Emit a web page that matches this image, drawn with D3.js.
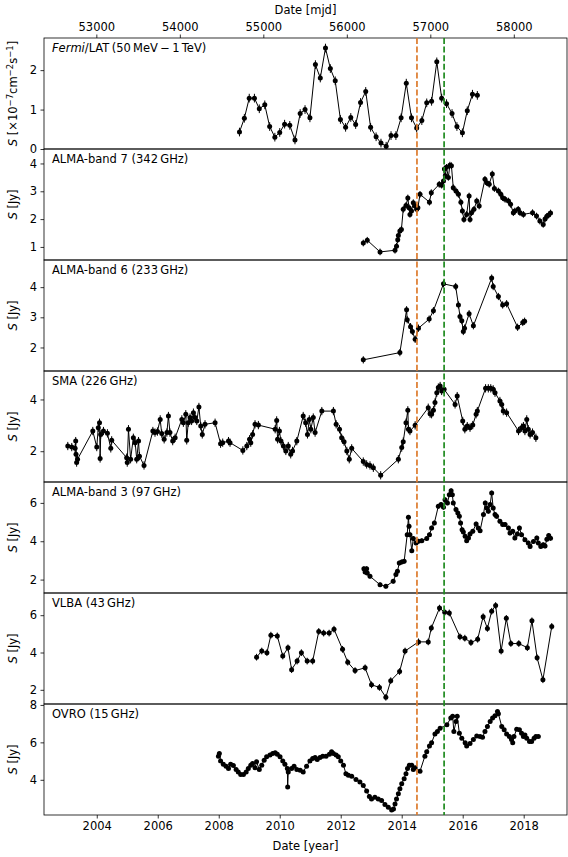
<!DOCTYPE html>
<html lang="en">
<head>
<meta charset="UTF-8">
<title>Multi-band light curves</title>
<script src="https://d3js.org/d3.v7.min.js"></script>
<style>
    body { margin: 0; background: #fff; }
    text { font-family: "DejaVu Sans", sans-serif; font-size: 11.5px; fill: #000; }
</style>
</head>
<body>
<script>

// ---- data: [decimal year, flux] ----
var fermiData = [[2008.68,0.43],[2008.84,0.78],[2009.00,1.29],[2009.17,1.29],[2009.33,1.02],[2009.51,1.12],[2009.67,0.57],[2009.84,0.30],[2010.00,0.42],[2010.16,0.63],[2010.33,0.60],[2010.50,0.23],[2010.67,0.90],[2010.83,1.00],[2010.99,0.79],[2011.17,2.14],[2011.33,1.80],[2011.50,2.56],[2011.66,2.04],[2011.82,1.73],[2011.99,0.75],[2012.16,0.55],[2012.33,0.80],[2012.49,0.62],[2012.65,1.18],[2012.82,1.46],[2012.98,0.55],[2013.16,0.31],[2013.32,0.15],[2013.49,0.07],[2013.65,0.34],[2013.81,0.34],[2013.98,0.79],[2014.15,1.67],[2014.32,0.79],[2014.49,0.53],[2014.66,0.72],[2014.82,1.17],[2014.98,1.21],[2015.15,2.21],[2015.31,1.29],[2015.47,1.15],[2015.65,0.90],[2015.81,0.57],[2015.99,0.41],[2016.15,0.97],[2016.32,1.39],[2016.48,1.36]];
var fermiErr = 0.11;

var alma7Data = [[2012.74,1.14],[2012.87,1.24],[2013.29,0.82],[2013.78,0.88],[2013.83,1.02],[2013.87,1.26],[2013.89,1.41],[2013.94,1.57],[2013.99,1.63],[2014.05,2.35],[2014.14,2.49],[2014.20,2.76],[2014.24,2.41],[2014.27,2.17],[2014.32,2.29],[2014.38,2.59],[2014.44,2.47],[2014.49,2.35],[2014.53,2.41],[2014.60,2.89],[2014.91,2.61],[2014.97,2.95],[2015.23,3.25],[2015.31,3.22],[2015.37,3.37],[2015.40,3.80],[2015.43,3.56],[2015.47,3.86],[2015.53,3.50],[2015.58,3.94],[2015.63,3.92],[2015.69,3.13],[2015.78,3.01],[2015.86,2.89],[2015.94,2.61],[2015.99,2.29],[2016.04,1.99],[2016.13,2.17],[2016.21,2.83],[2016.24,1.99],[2016.29,2.23],[2016.37,2.35],[2016.46,2.65],[2016.54,2.47],[2016.73,3.43],[2016.79,3.31],[2016.87,3.25],[2016.97,3.62],[2017.04,3.10],[2017.17,3.01],[2017.25,2.89],[2017.31,2.77],[2017.39,2.71],[2017.50,2.65],[2017.57,2.53],[2017.66,2.23],[2017.71,2.29],[2017.82,2.35],[2017.88,2.23],[2017.99,2.17],[2018.29,2.23],[2018.42,2.11],[2018.53,1.93],[2018.64,1.81],[2018.70,2.00],[2018.76,2.10],[2018.82,2.15],[2018.88,2.22]];
var alma7Err = 0.12;

var alma6Data = [[2012.74,1.59],[2013.94,1.83],[2014.16,3.25],[2014.18,2.92],[2014.29,2.69],[2014.35,2.53],[2014.44,2.27],[2014.55,2.64],[2014.90,2.94],[2015.04,3.22],[2015.37,4.11],[2015.77,4.02],[2015.86,3.41],[2015.91,3.03],[2015.97,2.89],[2016.02,2.53],[2016.06,2.64],[2016.21,3.12],[2016.35,2.72],[2016.95,4.30],[2017.00,4.02],[2017.17,3.69],[2017.31,3.41],[2017.44,3.45],[2017.80,2.67],[2017.97,2.83],[2018.03,2.87]];
var alma6Err = 0.12;

var smaData = [[2003.05,2.20],[2003.18,2.16],[2003.29,2.11],[2003.31,2.39],[2003.32,1.88],[2003.34,1.56],[2003.37,1.69],[2003.87,2.78],[2004.00,2.16],[2004.05,2.91],[2004.09,3.10],[2004.11,1.72],[2004.13,2.65],[2004.22,2.78],[2004.35,2.69],[2004.46,2.11],[2004.49,2.42],[2004.98,1.75],[2005.00,1.56],[2005.04,2.85],[2005.11,1.69],[2005.20,2.52],[2005.26,2.33],[2005.31,1.69],[2005.37,2.39],[2005.40,1.81],[2005.55,1.45],[2005.84,2.78],[2005.91,2.72],[2005.99,2.76],[2006.08,3.23],[2006.13,2.68],[2006.21,2.46],[2006.30,2.72],[2006.35,3.36],[2006.40,2.72],[2006.49,2.39],[2006.57,2.52],[2006.79,3.23],[2006.84,3.10],[2006.92,3.43],[2006.95,2.42],[2007.00,3.10],[2007.06,3.30],[2007.11,3.17],[2007.17,3.49],[2007.22,3.30],[2007.28,3.17],[2007.35,3.71],[2007.41,2.97],[2007.46,2.65],[2007.55,3.04],[2007.88,3.10],[2008.06,2.29],[2008.13,2.33],[2008.32,2.39],[2008.37,2.33],[2008.79,2.03],[2008.92,2.20],[2009.01,2.46],[2009.05,2.33],[2009.11,2.65],[2009.19,3.04],[2009.30,3.01],[2009.85,2.85],[2009.90,3.19],[2009.93,2.46],[2009.99,2.78],[2010.04,2.39],[2010.12,2.20],[2010.20,2.01],[2010.28,2.20],[2010.36,1.88],[2010.42,2.01],[2010.56,2.39],[2010.77,3.36],[2010.85,3.10],[2010.91,2.65],[2010.97,3.23],[2011.02,2.85],[2011.10,3.30],[2011.16,2.72],[2011.38,3.55],[2011.76,3.55],[2011.85,3.04],[2011.96,2.85],[2012.03,2.52],[2012.11,2.37],[2012.20,2.01],[2012.28,1.69],[2012.36,2.11],[2012.74,1.60],[2012.85,1.49],[2012.96,1.45],[2013.07,1.36],[2013.31,1.07],[2013.89,1.69],[2014.00,2.14],[2014.05,2.37],[2014.14,3.10],[2014.20,3.58],[2014.22,2.85],[2014.27,2.78],[2014.44,3.00],[2014.87,3.68],[2014.93,3.45],[2014.98,3.43],[2015.04,3.58],[2015.09,3.88],[2015.15,4.26],[2015.20,4.46],[2015.26,4.52],[2015.31,4.33],[2015.39,4.39],[2015.75,3.81],[2015.82,4.13],[2016.00,3.17],[2016.07,2.85],[2016.15,2.97],[2016.24,2.91],[2016.33,3.01],[2016.44,3.43],[2016.48,3.55],[2016.75,4.43],[2016.84,4.43],[2016.92,4.43],[2017.00,4.39],[2017.06,4.26],[2017.22,3.94],[2017.28,3.81],[2017.33,3.55],[2017.44,3.49],[2017.83,2.78],[2017.93,2.91],[2017.99,2.97],[2018.04,2.78],[2018.10,3.23],[2018.15,2.85],[2018.21,2.65],[2018.29,2.72],[2018.40,2.52]];
var smaErr = 0.16;

var alma3Data = [[2012.76,2.57],[2012.80,2.40],[2012.85,2.57],[2012.87,2.34],[2012.96,2.17],[2013.29,1.73],[2013.48,1.65],[2013.72,1.91],[2013.81,2.26],[2013.86,2.43],[2013.92,2.86],[2014.00,2.92],[2014.08,2.95],[2014.18,4.34],[2014.22,5.25],[2014.24,4.78],[2014.27,4.34],[2014.33,3.51],[2014.38,4.14],[2014.47,3.91],[2014.55,4.00],[2014.66,4.03],[2014.82,4.14],[2014.91,4.34],[2014.98,4.69],[2015.07,4.95],[2015.20,5.82],[2015.29,5.91],[2015.37,5.77],[2015.42,6.17],[2015.50,6.00],[2015.56,6.43],[2015.62,6.64],[2015.66,6.43],[2015.69,6.00],[2015.78,5.65],[2015.84,5.47],[2015.89,5.30],[2015.93,4.95],[2015.98,4.60],[2016.02,4.48],[2016.08,4.26],[2016.13,4.03],[2016.19,4.17],[2016.24,4.38],[2016.33,4.52],[2016.44,4.90],[2016.51,4.69],[2016.57,4.55],[2016.68,5.39],[2016.74,6.00],[2016.79,5.73],[2016.84,5.56],[2016.90,5.91],[2016.95,6.52],[2017.00,5.73],[2017.06,5.39],[2017.11,5.30],[2017.22,5.04],[2017.31,4.87],[2017.39,4.87],[2017.50,4.69],[2017.55,4.43],[2017.64,4.52],[2017.71,4.17],[2017.79,4.38],[2017.86,4.69],[2017.93,4.34],[2018.04,4.08],[2018.15,3.91],[2018.21,3.73],[2018.32,3.99],[2018.43,4.17],[2018.48,3.91],[2018.56,3.73],[2018.64,3.82],[2018.70,3.75],[2018.76,4.10],[2018.82,4.30],[2018.88,4.15]];
var alma3Err = 0.12;

var vlbaData = [[2009.24,3.75],[2009.41,4.08],[2009.58,3.99],[2009.71,4.93],[2009.92,4.89],[2010.10,3.81],[2010.27,4.25],[2010.39,3.08],[2010.57,3.54],[2010.71,3.99],[2010.90,3.54],[2011.08,3.54],[2011.28,5.13],[2011.44,5.04],[2011.62,5.04],[2011.78,5.25],[2012.06,4.17],[2012.23,3.48],[2012.47,3.03],[2012.80,3.18],[2013.01,2.27],[2013.27,2.13],[2013.48,1.60],[2013.64,2.49],[2013.93,2.98],[2014.11,4.08],[2014.55,4.57],[2014.87,4.57],[2014.97,5.31],[2015.24,6.38],[2015.41,6.16],[2015.56,6.12],[2015.91,4.84],[2016.07,4.77],[2016.27,4.53],[2016.49,4.71],[2016.67,5.92],[2016.81,5.29],[2016.95,6.21],[2017.08,6.52],[2017.26,4.08],[2017.43,5.83],[2017.58,4.48],[2017.84,4.48],[2018.12,4.26],[2018.27,5.70],[2018.44,3.72],[2018.63,2.54],[2018.92,5.40]];
var vlbaErr = 0.18;

var ovroData = [[2007.99,5.26],[2008.02,5.41],[2008.06,5.01],[2008.15,4.83],[2008.24,4.73],[2008.32,4.60],[2008.39,4.83],[2008.48,4.76],[2008.57,4.55],[2008.64,4.42],[2008.72,4.29],[2008.81,4.29],[2008.90,4.42],[2008.97,4.60],[2009.05,4.78],[2009.11,4.87],[2009.19,4.65],[2009.24,4.96],[2009.33,4.55],[2009.41,4.78],[2009.49,5.05],[2009.57,5.23],[2009.68,5.32],[2009.77,5.41],[2009.85,5.44],[2009.92,5.37],[2010.01,5.23],[2010.10,5.01],[2010.17,4.83],[2010.25,4.60],[2010.26,3.61],[2010.28,4.42],[2010.39,4.60],[2010.47,4.73],[2010.56,4.55],[2010.67,4.51],[2010.77,4.42],[2010.88,4.73],[2010.99,5.01],[2011.08,5.14],[2011.16,5.19],[2011.23,5.08],[2011.32,5.19],[2011.41,5.26],[2011.52,5.26],[2011.63,5.37],[2011.70,5.50],[2011.76,5.41],[2011.85,5.32],[2011.92,5.23],[2012.00,5.01],[2012.09,4.78],[2012.17,4.33],[2012.25,4.24],[2012.36,4.19],[2012.50,4.01],[2012.63,3.88],[2012.74,3.70],[2012.85,3.40],[2012.94,3.11],[2013.01,2.98],[2013.12,3.07],[2013.23,2.98],[2013.34,2.89],[2013.45,2.68],[2013.56,2.53],[2013.67,2.39],[2013.73,2.44],[2013.78,2.71],[2013.83,2.98],[2013.89,3.25],[2013.94,3.52],[2014.00,3.79],[2014.08,4.06],[2014.14,4.33],[2014.19,4.60],[2014.25,4.78],[2014.33,4.78],[2014.38,4.55],[2014.44,4.65],[2014.60,4.46],[2014.76,5.26],[2014.82,5.50],[2014.91,5.80],[2014.98,5.98],[2015.09,6.45],[2015.17,6.58],[2015.26,6.76],[2015.48,6.94],[2015.61,7.30],[2015.67,7.39],[2015.71,6.58],[2015.78,7.12],[2015.82,7.39],[2015.89,6.49],[2015.97,6.22],[2016.08,5.98],[2016.13,5.80],[2016.24,5.94],[2016.35,6.16],[2016.46,6.34],[2016.57,6.31],[2016.65,6.27],[2016.73,6.58],[2016.81,6.85],[2016.90,7.12],[2016.98,7.30],[2017.06,7.42],[2017.14,7.65],[2017.17,7.53],[2017.28,6.85],[2017.36,6.67],[2017.44,6.45],[2017.53,6.31],[2017.60,6.16],[2017.64,5.98],[2017.68,6.31],[2017.77,6.70],[2017.86,6.67],[2017.93,6.49],[2017.99,6.31],[2018.04,6.40],[2018.10,6.22],[2018.19,6.04],[2018.26,6.04],[2018.34,6.22],[2018.40,6.31],[2018.48,6.31]];
var ovroErr = 0.08;

// event epochs (decimal year)
var orangeEpoch = 2014.50;
var greenEpoch = 2015.39;

var yearTicks = [2004, 2006, 2008, 2010, 2012, 2014, 2016, 2018];
var mjdTicks = [53000, 54000, 55000, 56000, 57000, 58000];

// panel setup
var panels = [
    { name: "fermi", data: fermiData, err: fermiErr, domain: [0, 2.815], ticks: [0, 1, 2] },
    { name: "ALMA-band 7 (342\u2009GHz)", data: alma7Data, err: alma7Err, domain: [0.53, 4.52], ticks: [1, 2, 3, 4] },
    { name: "ALMA-band 6 (233\u2009GHz)", data: alma6Data, err: alma6Err, domain: [1.22, 4.9], ticks: [2, 3, 4] },
    { name: "SMA (226\u2009GHz)", data: smaData, err: smaErr, domain: [0.81, 5.1], ticks: [2, 4] },
    { name: "ALMA-band 3 (97\u2009GHz)", data: alma3Data, err: alma3Err, domain: [1.3, 7.09], ticks: [2, 4, 6] },
    { name: "VLBA (43\u2009GHz)", data: vlbaData, err: vlbaErr, domain: [1.24, 7.19], ticks: [2, 4, 6] },
    { name: "OVRO (15\u2009GHz)", data: ovroData, err: ovroErr, domain: [2.12, 8.05], ticks: [4, 6, 8] }
];

var width = 568;
var height = 857;
var left = 44, right = 567, top0 = 38, bottom0 = 815;
var ph = (bottom0 - top0) / panels.length;

var svg = d3.select("body")
    .append("svg")
    .attr("width", width)
    .attr("height", height);

svg.append("rect").attr("width", width).attr("height", height).attr("fill", "#fff");

var x = d3.scaleLinear().domain([2002.27, 2019.42]).range([left, right]);

function yearToMjd(yr) { return 51544 + (yr - 2000) * 365.25; }
var xMjd = d3.scaleLinear()
    .domain([yearToMjd(2002.27), yearToMjd(2019.42)])
    .range([left, right]);

var defs = svg.append("defs");

panels.forEach(function (p, i) {
    var y0 = top0 + i * ph;
    var y1 = y0 + ph;
    var y = d3.scaleLinear().domain(p.domain).range([y1, y0]);

    defs.append("clipPath").attr("id", "clip" + i)
        .append("rect")
        .attr("x", left).attr("y", y0)
        .attr("width", right - left).attr("height", ph);

    var g = svg.append("g").attr("clip-path", "url(#clip" + i + ")");

    // error bars
    g.selectAll("line.err")
        .data(p.data)
        .enter().append("line")
        .attr("class", "err")
        .attr("x1", function (d) { return x(d[0]); })
        .attr("x2", function (d) { return x(d[0]); })
        .attr("y1", function (d) { return y(d[1] - p.err); })
        .attr("y2", function (d) { return y(d[1] + p.err); })
        .attr("stroke", "#000")
        .attr("stroke-width", 1);

    var line = d3.line()
        .x(function (d) { return x(d[0]); })
        .y(function (d) { return y(d[1]); });

    g.append("path")
        .datum(p.data)
        .attr("d", line)
        .attr("fill", "none")
        .attr("stroke", "#000")
        .attr("stroke-width", 1);

    g.selectAll("circle")
        .data(p.data)
        .enter().append("circle")
        .attr("cx", function (d) { return x(d[0]); })
        .attr("cy", function (d) { return y(d[1]); })
        .attr("r", 2.5)
        .attr("fill", "#000");

    // y axis
    var ax = svg.append("g")
        .attr("transform", "translate(" + left + ",0)")
        .call(d3.axisLeft(y).tickValues(p.ticks).tickSize(3.5).tickPadding(3.5).tickFormat(d3.format("d")));
    ax.select(".domain").remove();
    ax.selectAll("line").attr("stroke", "#000").attr("stroke-width", 0.8);
    ax.selectAll("text").style("font-size", "11.5px").attr("fill", "#000");

    // frame
    svg.append("rect")
        .attr("x", left).attr("y", y0)
        .attr("width", right - left).attr("height", ph)
        .attr("fill", "none")
        .attr("stroke", "#000")
        .attr("stroke-width", 0.8);

    // panel label
    var lab = svg.append("text").attr("x", 52).attr("y", y0 + 14);
    if (p.name === "fermi") {
        lab.append("tspan").attr("font-style", "italic").text("Fermi");
        lab.append("tspan").text("/LAT\u2009(50\u2009MeV\u2009\u2212\u20091\u2009TeV)");
    } else {
        lab.text(p.name);
    }

    // y label
    var yl = svg.append("text")
        .attr("transform", "translate(17," + (y0 + ph / 2) + ") rotate(-90)")
        .attr("text-anchor", "middle");
    yl.append("tspan").attr("font-style", "italic").text("S");
    if (i === 0) {
        yl.append("tspan").text(" [\u00d710");
        yl.append("tspan").attr("dy", -4.5).style("font-size", "8.5px").text("\u22127");
        yl.append("tspan").attr("dy", 4.5).text("cm");
        yl.append("tspan").attr("dy", -4.5).style("font-size", "8.5px").text("\u22122");
        yl.append("tspan").attr("dy", 4.5).text("s");
        yl.append("tspan").attr("dy", -4.5).style("font-size", "8.5px").text("\u22121");
        yl.append("tspan").attr("dy", 4.5).text("]");
    } else {
        yl.append("tspan").text(" [Jy]");
    }
});

// bottom axis (years)
var bx = svg.append("g")
    .attr("transform", "translate(0," + bottom0 + ")")
    .call(d3.axisBottom(x).tickValues(yearTicks).tickSize(3.5).tickPadding(3.5).tickFormat(d3.format("d")));
bx.select(".domain").remove();
bx.selectAll("line").attr("stroke", "#000").attr("stroke-width", 0.8);
bx.selectAll("text").style("font-size", "11.5px").attr("fill", "#000");

// top axis (mjd)
var tx = svg.append("g")
    .attr("transform", "translate(0," + top0 + ")")
    .call(d3.axisTop(xMjd).tickValues(mjdTicks).tickSize(3.5).tickPadding(3.5).tickFormat(d3.format("d")));
tx.select(".domain").remove();
tx.selectAll("line").attr("stroke", "#000").attr("stroke-width", 0.8);
tx.selectAll("text").style("font-size", "11.5px").attr("fill", "#000");

svg.append("text")
    .attr("x", (left + right) / 2).attr("y", 850)
    .attr("text-anchor", "middle")
    .text("Date [year]");

svg.append("text")
    .attr("x", (left + right) / 2).attr("y", 14)
    .attr("text-anchor", "middle")
    .text("Date [mjd]");

// dashed epoch markers across all panels
[[orangeEpoch, "#dd7a2c"], [greenEpoch, "#1f8a1f"]].forEach(function (e) {
    svg.append("line")
        .attr("x1", x(e[0])).attr("x2", x(e[0]))
        .attr("y1", top0).attr("y2", bottom0)
        .attr("stroke", e[1])
        .attr("stroke-width", 1.7)
        .attr("stroke-dasharray", "6,2.6");
});

</script>
</body>
</html>
